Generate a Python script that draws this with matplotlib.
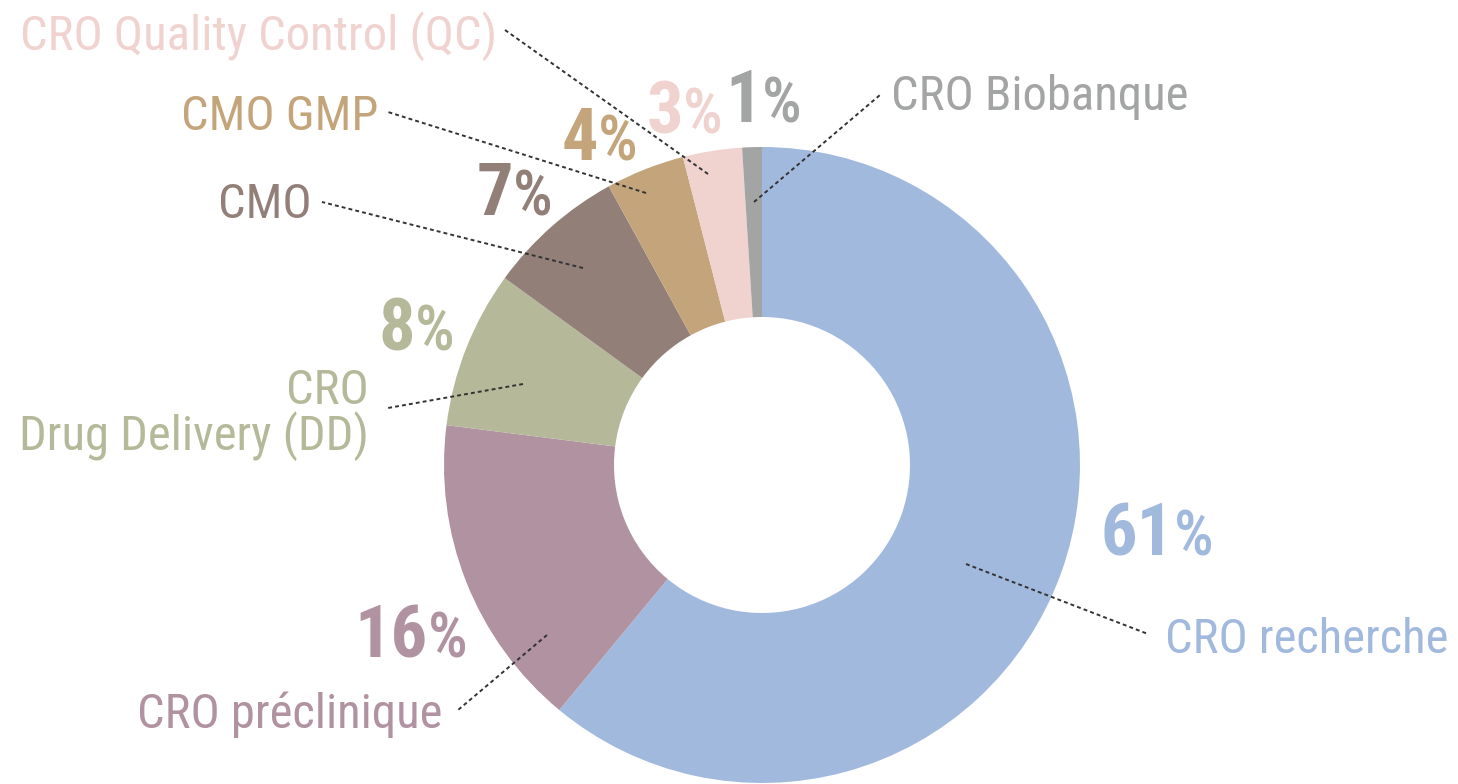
import matplotlib
matplotlib.use("Agg")
import matplotlib.pyplot as plt
from matplotlib import font_manager

W, H = 1458, 784

categories = ["CRO recherche", "CRO préclinique", "CRO\nDrug Delivery (DD)", "CMO",
              "CMO GMP", "CRO Quality Control (QC)", "CRO Biobanque"]
values = [61, 16, 8, 7, 4, 3, 1]
colors = ["#a2b9de", "#b092a1", "#b5b99a", "#928078", "#c4a57b", "#f0d2cf", "#a3a4a4"]
text_colors = ["#a2b9de", "#b092a1", "#b5b99a", "#928078", "#c4a57b", "#f0d2cf", "#a3a4a4"]

names = {f.name for f in font_manager.fontManager.ttflist}
FONT = "DejaVu Sans"
for cand in ["Roboto Condensed", "Archivo Narrow", "PT Sans Narrow", "Pragati Narrow",
             "Barlow Condensed", "IBM Plex Sans Condensed", "Encode Sans Condensed",
             "Sofia Sans Condensed", "Liberation Sans Narrow"]:
    if cand in names:
        FONT = cand
        break

def Y(y):
    return H - y

fig = plt.figure(figsize=(W / 100, H / 100), dpi=100)
ax = fig.add_axes([0, 0, 1, 1])

ax.pie(values, colors=colors, startangle=90, counterclock=False,
       radius=318, center=(762, Y(465)),
       wedgeprops=dict(width=170, linewidth=0))
ax.set_xlim(0, W)
ax.set_ylim(0, H)
ax.set_aspect("equal")
ax.axis("off")

# category label positions (x, baseline y, ha)
label_pos = [
    (1165, 653, "left"),
    (137, 728, "left"),
    (369, 450, "right"),
    (312, 218, "right"),
    (378, 130, "right"),
    (20, 50, "left"),
    (891, 110, "left"),
]
for cat, (x, y, ha), c in zip(categories, label_pos, text_colors):
    ax.text(x, Y(y), cat, ha=ha, va="baseline", fontsize=35, color=c,
            family=FONT, linespacing=0.92, multialignment="right")

# percentage labels: split x, baseline
pct_pos = [
    (1174, 556),
    (428, 658),
    (415, 350),
    (513, 215),
    (598, 160),
    (683, 133),
    (762, 122),
]
for v, (x, y), c in zip(values, pct_pos, text_colors):
    ax.text(x, Y(y), str(v), ha="right", va="baseline", fontsize=52,
            fontweight="black", color=c, family=FONT)
    ax.text(x, Y(y), "%", ha="left", va="baseline", fontsize=45,
            fontweight="medium", color=c, family=FONT)

# leader lines
leaders = [
    ((966, 564), (1148, 634)),
    ((547, 635), (458, 710)),
    ((523, 384), (388, 408)),
    ((583, 268), (322, 202)),
    ((646, 193), (388, 112)),
    ((708, 174), (505, 30)),
    ((754, 202), (880, 95)),
]
for (x0, y0), (x1, y1) in leaders:
    ax.plot([x0, x1], [Y(y0), Y(y1)], color="#333333", lw=1.4,
            linestyle=(0, (2, 1.6)), solid_capstyle="butt")

fig.savefig("out.png", dpi=100)
